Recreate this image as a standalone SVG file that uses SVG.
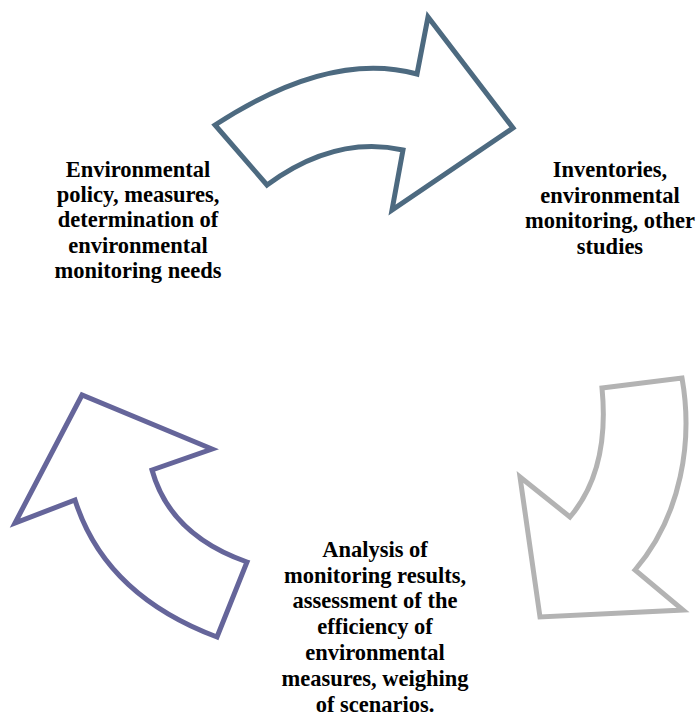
<svg xmlns="http://www.w3.org/2000/svg" width="697" height="718" viewBox="0 0 697 718">
  <style>
    .arrow { fill: #ffffff; stroke-width: 5; stroke-linejoin: miter; }
    .label { font-family: "Liberation Serif", "Times New Roman", serif; font-weight: bold; font-size: 22.5px; fill: #000000; text-anchor: middle; }
  </style>
  <rect width="697" height="718" fill="#ffffff"/>
  <g id="connectors">
    <path id="arrow-top" class="arrow" stroke="#4d6a80"
          d="M215,125 Q330,50 417,74 L428,17 L513,128 L392,210 L403,150 Q335,135 267,185 Z"/>
    <path id="arrow-right" class="arrow" stroke="#b3b3b3"
          d="M602,388 L682,378 C693,440 682,515 635,570 L683,610 L540,617 L520,477 L570,517 Q610,470 602,388 Z"/>
    <path id="arrow-left" class="arrow" stroke="#65659a"
          d="M217,637 Q105,595 75,500 L15,523 L82,395 L212,449 L152,470 Q170,535 247,562 Z"/>
  </g>
  <g id="node-policy">
    <text class="label" x="138" y="177">Environmental</text>
    <text class="label" x="138" y="202">policy, measures,</text>
    <text class="label" x="138" y="227">determination of</text>
    <text class="label" x="138" y="253">environmental</text>
    <text class="label" x="138" y="278">monitoring needs</text>
  </g>
  <g id="node-monitoring">
    <text class="label" x="610" y="177">Inventories,</text>
    <text class="label" x="610" y="203">environmental</text>
    <text class="label" x="610" y="228">monitoring, other</text>
    <text class="label" x="610" y="254">studies</text>
  </g>
  <g id="node-analysis">
    <text class="label" x="375" y="557">Analysis of</text>
    <text class="label" x="375" y="583">monitoring results,</text>
    <text class="label" x="375" y="608">assessment of the</text>
    <text class="label" x="375" y="634">efficiency of</text>
    <text class="label" x="375" y="660">environmental</text>
    <text class="label" x="375" y="686">measures, weighing</text>
    <text class="label" x="375" y="712">of scenarios.</text>
  </g>
</svg>
